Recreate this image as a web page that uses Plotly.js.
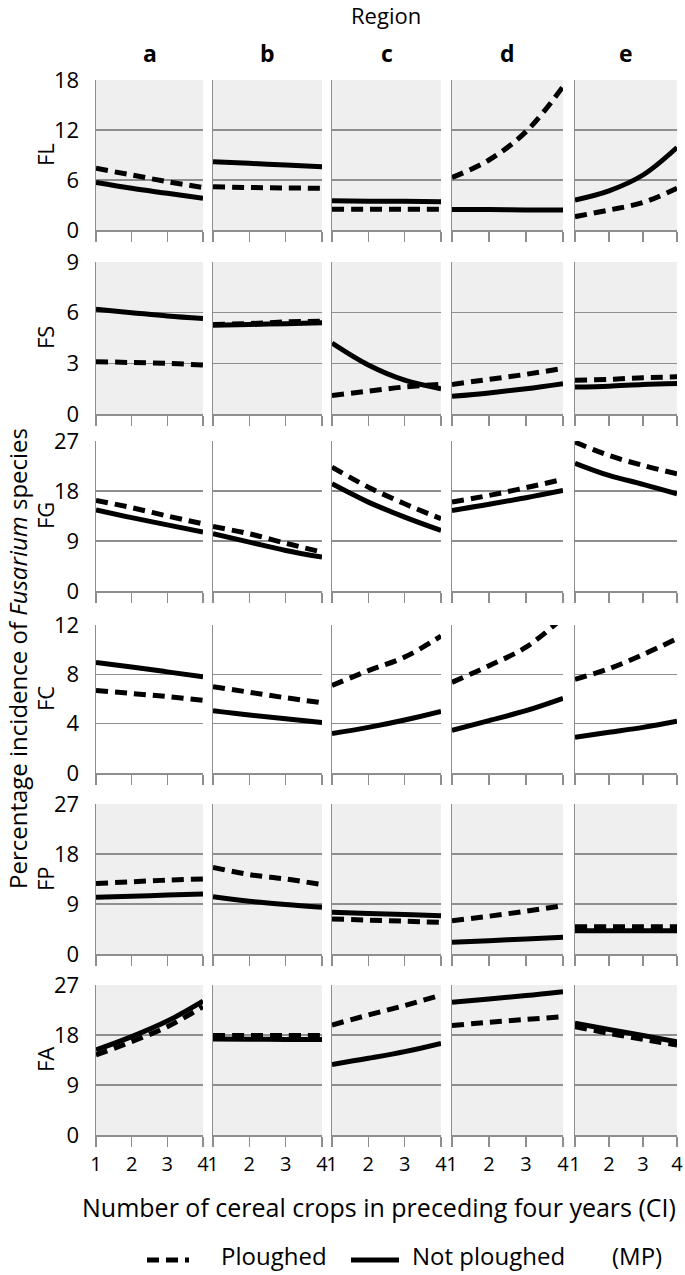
<!DOCTYPE html>
<html>
<head>
<meta charset="utf-8">
<script src="https://cdn.plot.ly/plotly-3.0.1.min.js"></script>
<style>html,body{margin:0;padding:0;background:#fff}#chart{width:685px;height:1275px}</style>
</head>
<body>
<div id="chart"></div>
<script>
// ---------- data ----------
const CI = [1, 2, 3, 4];
const regions = ['a', 'b', 'c', 'd', 'e'];
const species = ['FL', 'FS', 'FG', 'FC', 'FP', 'FA'];
const yTickLabels = [[0, 6, 12, 18], [0, 3, 6, 9], [0, 9, 18, 27], [0, 4, 8, 12], [0, 9, 18, 27], [0, 9, 18, 27]];
const seriesNames = ['Ploughed', 'Not ploughed'];

// Ploughed (dashed), one list per region a..e
const ploughedFL = [[7.4, 6.6, 5.8, 5.1], [5.2, 5.1, 5.05, 5.0], [2.5, 2.5, 2.5, 2.5], [6.3, 8.4, 11.8, 17.2], [1.6, 2.4, 3.3, 5.0]];
const ploughedFS = [[3.1, 3.05, 3.0, 2.9], [5.3, 5.35, 5.45, 5.5], [1.1, 1.35, 1.6, 1.75], [1.75, 2.05, 2.35, 2.7], [2.0, 2.05, 2.15, 2.2]];
const ploughedFG = [[16.3, 15.0, 13.5, 12.1], [11.6, 10.3, 8.6, 7.0], [22.3, 18.7, 15.7, 13.0], [16.0, 17.2, 18.6, 20.1], [26.8, 24.4, 22.6, 21.1]];
const ploughedFC = [[6.7, 6.45, 6.2, 5.9], [7.0, 6.55, 6.1, 5.7], [7.1, 8.3, 9.4, 11.1], [7.35, 8.7, 10.2, 12.6], [7.6, 8.45, 9.6, 10.9]];
const ploughedFP = [[12.7, 13.0, 13.3, 13.5], [15.6, 14.3, 13.5, 12.5], [6.3, 6.1, 5.9, 5.7], [6.0, 6.8, 7.7, 8.7], [4.9, 4.9, 4.9, 4.9]];
const ploughedFA = [[14.4, 16.8, 19.5, 23.1], [17.9, 17.9, 17.9, 17.9], [19.8, 21.6, 23.3, 25.2], [19.7, 20.3, 20.8, 21.3], [19.5, 18.3, 17.2, 16.2]];

// Not ploughed (solid)
const notPloughedFL = [[5.7, 5.0, 4.4, 3.8], [8.2, 8.0, 7.8, 7.6], [3.5, 3.45, 3.45, 3.4], [2.45, 2.45, 2.4, 2.4], [3.6, 4.7, 6.6, 9.9]];
const notPloughedFS = [[6.2, 6.0, 5.8, 5.65], [5.25, 5.3, 5.35, 5.4], [4.2, 2.9, 2.0, 1.5], [1.05, 1.25, 1.5, 1.8], [1.6, 1.65, 1.75, 1.8]];
const notPloughedFG = [[14.6, 13.2, 11.9, 10.6], [10.3, 8.8, 7.3, 6.1], [19.3, 16.0, 13.3, 10.9], [14.5, 15.6, 16.8, 18.1], [23.0, 20.8, 19.2, 17.5]];
const notPloughedFC = [[8.97, 8.6, 8.2, 7.8], [5.05, 4.7, 4.4, 4.1], [3.2, 3.7, 4.3, 5.0], [3.45, 4.25, 5.05, 6.05], [2.9, 3.3, 3.7, 4.2]];
const notPloughedFP = [[10.2, 10.4, 10.6, 10.8], [10.3, 9.5, 8.9, 8.4], [7.5, 7.3, 7.1, 6.9], [2.1, 2.4, 2.7, 3.0], [4.2, 4.2, 4.2, 4.2]];
const notPloughedFA = [[15.3, 17.7, 20.5, 24.1], [17.3, 17.25, 17.2, 17.2], [12.7, 13.8, 15.0, 16.5], [23.9, 24.5, 25.1, 25.8], [20.1, 19.0, 17.9, 16.8]];

const ploughed = [ploughedFL, ploughedFS, ploughedFG, ploughedFC, ploughedFP, ploughedFA];
const notPloughed = [notPloughedFL, notPloughedFS, notPloughedFG, notPloughedFC, notPloughedFP, notPloughedFA];

// ---------- layout geometry (pixels) ----------
const W = 685, H = 1275;
const colPx = [[96, 203], [213, 322], [332, 441], [452, 563], [575, 677]];
const rowPx = [[80, 230], [262, 414], [441, 591], [625, 773], [804, 954], [985, 1135]];
const shadedRows = [true, true, false, false, true, true];

const FONT = 'Open Sans, Lato, sans-serif';
const TICKFONT = 'Liberation Sans Narrow, Open Sans, sans-serif';
const GRID = '#8e8e8e';
const DASH = '12px,7px';

const traces = [];
const layout = {
  width: W, height: H, autosize: false,
  margin: {l: 0, r: 0, t: 0, b: 0},
  paper_bgcolor: '#ffffff', plot_bgcolor: 'rgba(0,0,0,0)',
  font: {family: FONT, size: 22, color: '#000'},
  showlegend: false,
  shapes: [], annotations: []
};

species.forEach((sp, r) => {
  regions.forEach((rg, c) => {
    const k = r * 5 + c + 1;
    const xa = 'x' + (k === 1 ? '' : k), ya = 'y' + (k === 1 ? '' : k);
    const xKey = 'xaxis' + (k === 1 ? '' : k), yKey = 'yaxis' + (k === 1 ? '' : k);
    const ticks = yTickLabels[r];
    layout[xKey] = {
      domain: [colPx[c][0] / W, colPx[c][1] / W], anchor: ya,
      range: [1, 4], tickvals: CI, ticktext: CI.map(String),
      ticks: 'outside', ticklen: 10, tickwidth: 1.5, tickcolor: GRID,
      showline: true, linecolor: GRID, linewidth: 1.5,
      showgrid: false, zeroline: false, fixedrange: true,
      showticklabels: r === species.length - 1, ticklabeloverflow: 'allow',
      tickfont: {family: TICKFONT, size: 20, color: '#000'}
    };
    layout[yKey] = {
      domain: [1 - rowPx[r][1] / H, 1 - rowPx[r][0] / H], anchor: xa,
      range: [0, ticks[ticks.length - 1]], tickvals: ticks, ticktext: ticks.map(String),
      ticks: '', showline: true, linecolor: GRID, linewidth: 1.5,
      showgrid: true, gridcolor: GRID, gridwidth: 1.5, zeroline: false, fixedrange: true,
      showticklabels: c === 0, ticklabelstandoff: 11, ticklabeloverflow: 'allow',
      tickfont: {family: TICKFONT, size: 22, color: '#000'}
    };
    if (shadedRows[r]) {
      layout.shapes.push({
        type: 'rect', xref: xa + ' domain', yref: ya + ' domain', x0: 0, x1: 1, y0: 0, y1: 1,
        fillcolor: '#efefef', line: {width: 0}, layer: 'below'
      });
    }
    traces.push({
      x: CI, y: notPloughed[r][c], xaxis: xa, yaxis: ya, type: 'scatter', mode: 'lines',
      name: seriesNames[1],
      line: {color: '#000', width: 5, shape: 'spline', smoothing: 1},
      hoverinfo: 'skip'
    });
    traces.push({
      x: CI, y: ploughed[r][c], xaxis: xa, yaxis: ya, type: 'scatter', mode: 'lines',
      name: seriesNames[0],
      line: {color: '#000', width: 5, dash: DASH, shape: 'spline', smoothing: 1},
      hoverinfo: 'skip'
    });
  });
  // row label
  layout.annotations.push({
    text: sp, xref: 'paper', yref: 'paper', x: 45 / W, y: 1 - (rowPx[r][0] + rowPx[r][1]) / 2 / H,
    xanchor: 'center', yanchor: 'middle', textangle: -90, showarrow: false,
    font: {family: FONT, size: 22, color: '#000'}
  });
});

// column letters
regions.forEach((rg, c) => {
  layout.annotations.push({
    text: '<b>' + rg + '</b>', xref: 'paper', yref: 'paper',
    x: (colPx[c][0] + colPx[c][1]) / 2 / W, y: 1 - 53 / H,
    xanchor: 'center', yanchor: 'middle', showarrow: false,
    font: {family: FONT, size: 23, color: '#000'}
  });
});

// legend (drawn as keys + labels)
const legLineY = 1 - 1260 / H;
layout.shapes.push(
  {type: 'line', xref: 'paper', yref: 'paper', x0: 147 / W, x1: 189 / W, y0: legLineY, y1: legLineY,
   line: {color: '#000', width: 5, dash: DASH}},
  {type: 'line', xref: 'paper', yref: 'paper', x0: 351 / W, x1: 399 / W, y0: legLineY, y1: legLineY,
   line: {color: '#000', width: 5}}
);

layout.annotations.push(
  {text: 'Region', xref: 'paper', yref: 'paper', x: 386 / W, y: 1 - 15 / H,
   xanchor: 'center', yanchor: 'middle', showarrow: false, font: {family: FONT, size: 22, color: '#000'}},
  {text: 'Percentage incidence of <i>Fusarium</i> species', xref: 'paper', yref: 'paper',
   x: 17 / W, y: 1 - 659 / H, xanchor: 'center', yanchor: 'middle', textangle: -90, showarrow: false,
   font: {family: FONT, size: 24, color: '#000'}},
  {text: 'Number of cereal crops in preceding four years (CI)', xref: 'paper', yref: 'paper',
   x: 379 / W, y: 1 - 1207 / H, xanchor: 'center', yanchor: 'middle', showarrow: false,
   font: {family: FONT, size: 25, color: '#000'}},
  {text: seriesNames[0], xref: 'paper', yref: 'paper', x: 219 / W, y: 0.001,
   xanchor: 'left', yanchor: 'bottom', showarrow: false, font: {family: FONT, size: 24, color: '#000'}},
  {text: seriesNames[1], xref: 'paper', yref: 'paper', x: 410 / W, y: 0.001,
   xanchor: 'left', yanchor: 'bottom', showarrow: false, font: {family: FONT, size: 24, color: '#000'}},
  {text: '(MP)', xref: 'paper', yref: 'paper', x: 610 / W, y: 0.001,
   xanchor: 'left', yanchor: 'bottom', showarrow: false, font: {family: FONT, size: 24, color: '#000'}}
);

Plotly.newPlot('chart', traces, layout, {displayModeBar: false, staticPlot: true});
</script>
</body>
</html>
